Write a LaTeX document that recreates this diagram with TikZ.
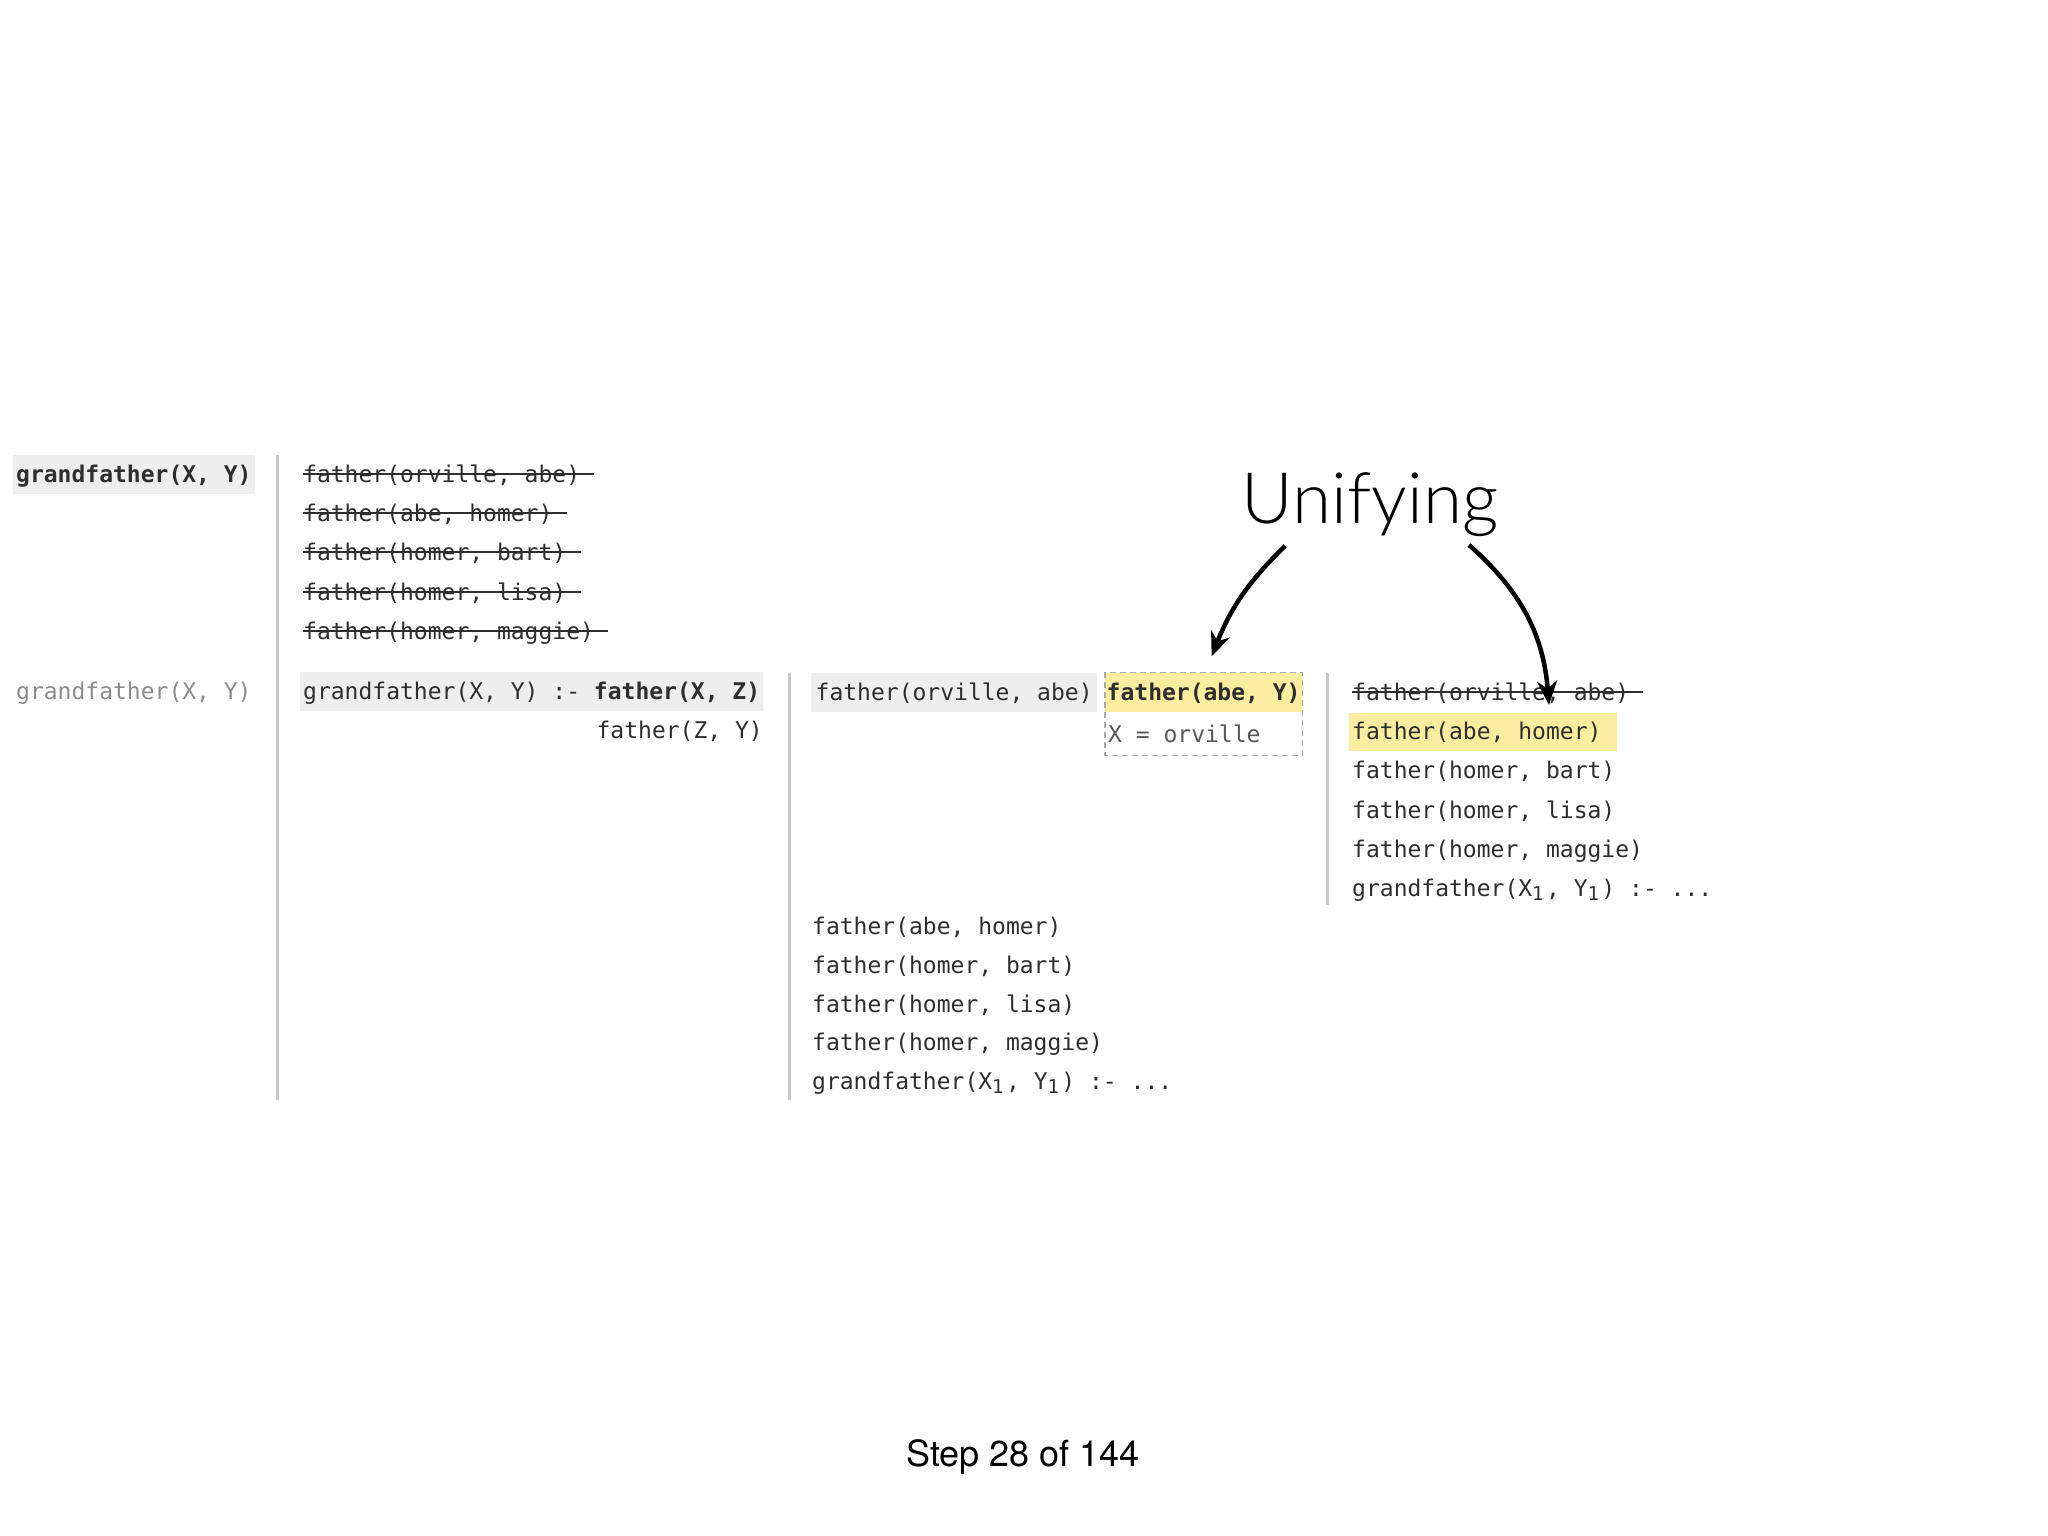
\documentclass[tikz,border=0pt]{standalone}
\usepackage{fontspec}
\setmonofont{DejaVu Sans Mono}
\newfontfamily\unifyfont{Lato}[UprightFont={* Light}]
\newfontfamily\stepfont{TeX Gyre Heros}
\usetikzlibrary{arrows.meta}

\definecolor{ink}{HTML}{2E2E2E}
\definecolor{boxgray}{HTML}{EEEEEE}
\definecolor{rulegray}{HTML}{C8C8C8}
\definecolor{hlyellow}{HTML}{FAEDA0}
\definecolor{dimtext}{HTML}{8C8C8C}
\definecolor{dashgray}{HTML}{AAAAAA}

\newcommand\moreclauses{...}
\newcommand\subone{\makebox[0.602em][l]{\raisebox{-4pt}{\fontsize{19}{19}\selectfont 1}}}

\begin{document}
\begin{tikzpicture}[x=1pt,y=-1pt,
        prolog/.style={inner sep=0pt,anchor=west,text=ink,font=\ttfamily\fontsize{23}{27}\selectfont,text height=20pt,text depth=3pt},
        greybox/.style={prolog,fill=boxgray,inner xsep=3pt,inner ysep=8pt},
        yellowbox/.style={prolog,fill=hlyellow,inner xsep=1.5pt,inner ysep=8pt},
        crossed/.style={draw=ink,line width=2pt,yshift=-3pt},
        sep/.style={draw=rulegray,line width=3pt},
        unify/.style={-{Stealth[length=24pt,width=20pt]},line width=4.5pt,black}]
        \useasboundingbox (0,0) rectangle (2048,1536);

        % column rules
        \draw[sep] (277,455) -- (277,1100);
        \draw[sep] (789,673) -- (789,1100);
        \draw[sep] (1327,673) -- (1327,905);

        % first row
        \node[greybox] (query1) at (13,474) {\textbf{grandfather(X, Y)}};
        \foreach \t [count=\i] in {{father(orville, abe)},{father(abe, homer)},{father(homer, bart)},{father(homer, lisa)},{father(homer, maggie)}}
        {
            \node[prolog] (old\i) at (303,{474+39.2*(\i-1)}) {\t};
            \draw[crossed] (old\i.west) -- ([xshift=14pt]old\i.east);
        }

        % second row
        \node[prolog,text=dimtext] (query2) at (16,691) {grandfather(X, Y)};
        \node[greybox] (rule) at (300,691) {grandfather(X, Y) :- \textbf{father(X, Z)}};
        \node[prolog,anchor=east] (sub2) at (763,730) {father(Z, Y)};

        \node[greybox,inner xsep=4.5pt] (orv) at (811,692) {father(orville, abe)};
        \node[yellowbox] (goal) at (1105,692) {\textbf{father(abe, Y)}};
        \node[prolog,text=ink!80] (xeq) at (1108,734) {X = orville};
        \coordinate (xbot) at ([yshift=-10pt]xeq.south);
        \draw[dashgray,dashed,line width=1.5pt,dash pattern=on 6pt off 4pt] (goal.north west) rectangle (goal.east |- xbot);

        \foreach \t [count=\i] in {{father(abe, homer)},{father(homer, bart)},{father(homer, lisa)},{father(homer, maggie)},{grandfather(X\subone, Y\subone) :- \moreclauses}}
        \node[prolog] (rest\i) at (812,{926+38.8*(\i-1)}) {\t};

        % right column
        \node[prolog] (new1) at (1352,692) {father(orville, abe)};
        \draw[crossed] (new1.west) -- ([xshift=14pt]new1.east);
        \node[fill=hlyellow,inner sep=0pt,minimum width=268pt,minimum height=38pt,anchor=west] (hl) at (1349,732) {};
        \foreach \t [count=\i from 2] in {{father(abe, homer)},{father(homer, bart)},{father(homer, lisa)},{father(homer, maggie)},{grandfather(X\subone, Y\subone) :- \moreclauses}}
        \node[prolog] (new\i) at (1352,{692+39.2*(\i-1)}) {\t};

        % label and arrows
        \node[anchor=base,inner sep=0pt,font=\unifyfont\fontsize{71}{71}\selectfont] (label) at (1370,523) {Unifying};
        \coordinate (u1) at (1285,546);
        \coordinate (u2) at (1469,545);
        \coordinate (hit) at (1549,705);
        \draw[unify] (u1) to[bend right=12] ([xshift=8pt,yshift=16pt]goal.north);
        \draw[unify] (u2) to[bend left=22] (hit);

        \node[anchor=base,inner sep=0pt,font=\stepfont\fontsize{36}{36}\selectfont] (step) at (1023,1466) {Step 28 of 144};
    \end{tikzpicture}
\end{document}
